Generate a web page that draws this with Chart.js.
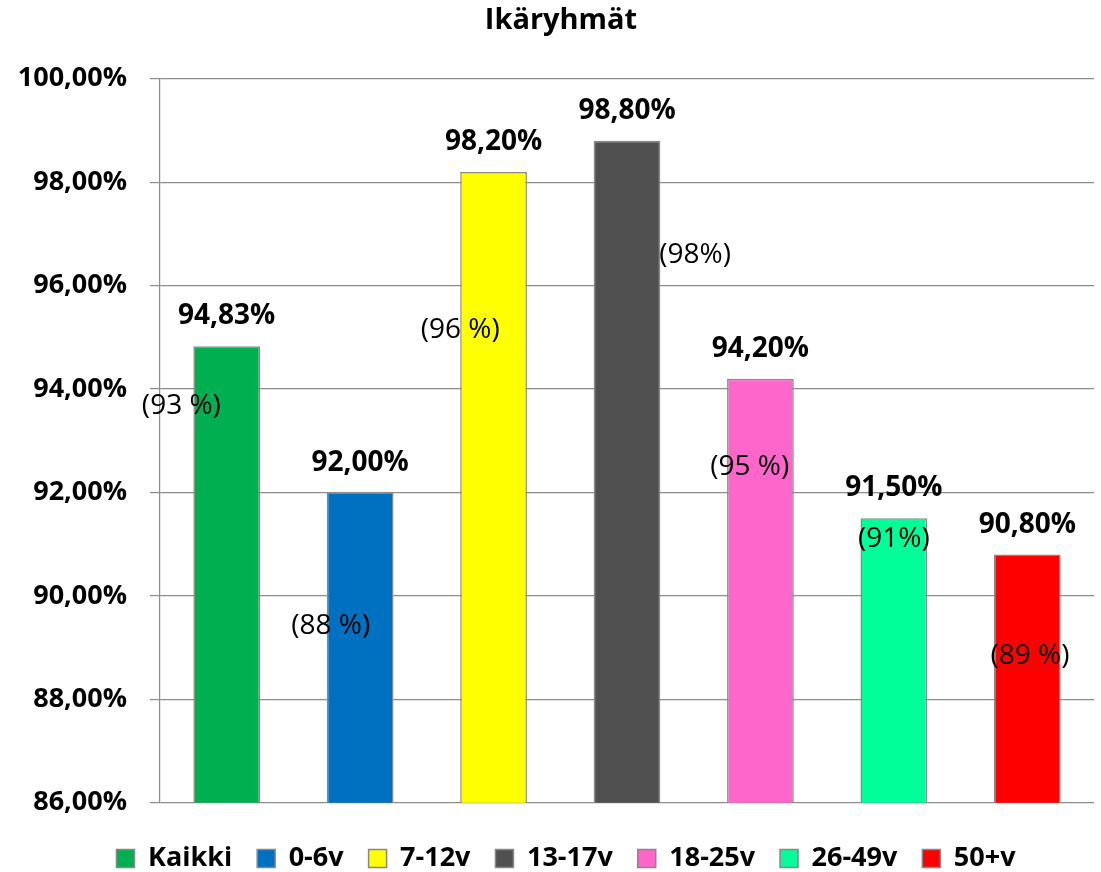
<!DOCTYPE html>
<html>
<head>
<meta charset="utf-8">
<title>Ikäryhmät</title>
<script src="https://cdn.jsdelivr.net/npm/chart.js@4/dist/chart.umd.min.js"></script>
<style>
  html, body { margin: 0; padding: 0; background: #fff; }
  #wrap { width: 1101px; height: 872px; position: relative; }
</style>
</head>
<body>
<div id="wrap"><canvas id="chart"></canvas></div>
<script>
  // age groups and their share (%)
  const groups = ['Kaikki', '0-6v', '7-12v', '13-17v', '18-25v', '26-49v', '50+v'];
  const shares = [94.83, 92.0, 98.2, 98.8, 94.2, 91.5, 90.8];
  const colors = ['#00B050', '#0070C0', '#FFFF00', '#505050', '#FF66CC', '#00FF99', '#FF0000'];

  // previous-year figures shown in brackets
  const prevLabels = ['(93 %)', '(88 %)', '(96 %)', '(98%)', '(95 %)', '(91%)', '(89 %)'];
  // where the bracket labels sit: value on y axis, shift along x in category units
  const prevY = [93.68, 89.42, 95.14, 96.59, 92.5, 91.1, 88.84];
  const prevShift = [-0.34, -0.22, -0.25, 0.51, -0.08, 0, 0.02];

  const yTicks = [86, 88, 90, 92, 94, 96, 98, 100];

  const FONT = '"Open Sans", Lato, sans-serif';
  const fmt = (v) => v.toFixed(2).replace('.', ',') + '%';

  const labelPlugin = {
    id: 'labels',
    afterLayout(chart) {
      // title and legend sit a bit right of the canvas centre
      chart.titleBlock.left += 14; chart.titleBlock.right += 14;
      chart.legend.left += 19; chart.legend.right += 19;
    },
    afterDatasetsDraw(chart) {
      const ctx = chart.ctx;
      const meta = chart.getDatasetMeta(0);
      const x = chart.scales.x, y = chart.scales.y;
      ctx.save();
      ctx.fillStyle = '#000';
      ctx.textAlign = 'center';
      ctx.textBaseline = 'alphabetic';
      ctx.font = 'bold 28px ' + FONT;
      meta.data.forEach((bar, i) => {
        ctx.fillText(fmt(shares[i]), bar.x, bar.y - 22);
      });
      ctx.textBaseline = 'middle';
      ctx.font = '28px ' + FONT;
      prevLabels.forEach((t, i) => {
        const px = x.getPixelForValue(i) + prevShift[i] * (x.width / groups.length);
        ctx.fillText(t, px, y.getPixelForValue(prevY[i]));
      });
      ctx.restore();
    }
  };

  new Chart(document.getElementById('chart'), {
    type: 'bar',
    data: {
      labels: groups,
      datasets: [{
        data: shares,
        backgroundColor: colors,
        borderColor: '#888888',
        borderWidth: 1.5,
        barPercentage: 0.5,
        categoryPercentage: 1
      }]
    },
    options: {
      responsive: true,
      maintainAspectRatio: false,
      animation: false,
      layout: { padding: { left: 0, right: 7, top: 0, bottom: -10 } },
      scales: {
        x: { display: false },
        y: {
          min: 86, max: 100,
          afterFit(s) { s.width = 160; },
          afterBuildTicks(s) { s.ticks = yTicks.map((v) => ({ value: v })); },
          ticks: {
            color: '#000',
            font: { family: FONT, size: 27, weight: 'bold' },
            padding: 23,
            callback: (v) => fmt(v)
          },
          grid: { color: '#8C8C8C', lineWidth: 1.2, tickLength: 10 },
          border: { color: '#8C8C8C', width: 1.2 }
        }
      },
      plugins: {
        title: {
          display: true,
          text: 'Ikäryhmät',
          color: '#000',
          font: { family: FONT, size: 29, weight: 'bold' },
          padding: { top: 3, bottom: 41 }
        },
        legend: {
          position: 'bottom',
          title: { display: true, text: ' ', color: '#000', font: { size: 1 }, padding: { top: 8, bottom: 8 } },
          labels: {
            color: '#000',
            font: { family: FONT, size: 27, weight: 'bold' },
            boxWidth: 18,
            boxHeight: 18,
            padding: 25,
            generateLabels: () => groups.map((g, i) => ({
              text: g,
              fillStyle: colors[i],
              strokeStyle: '#888888',
              fontColor: '#000',
              lineWidth: 1.5,
              index: i
            }))
          }
        },
        tooltip: { enabled: false }
      }
    },
    plugins: [labelPlugin]
  });
</script>
</body>
</html>
